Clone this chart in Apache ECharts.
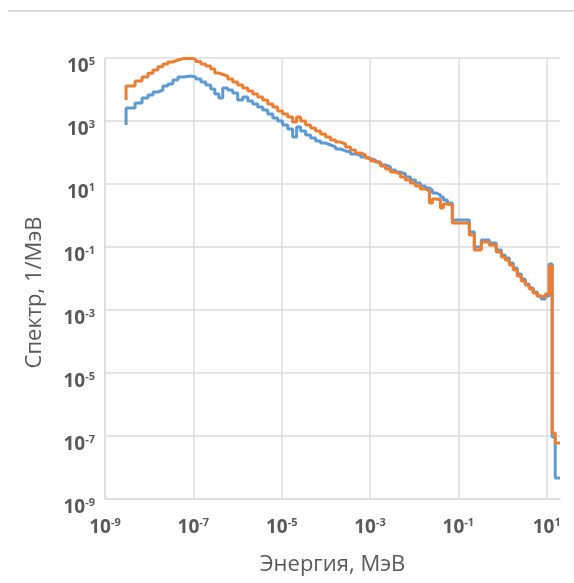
<!DOCTYPE html>
<html>
<head>
<meta charset="utf-8">
<script src="https://cdn.jsdelivr.net/npm/echarts@6/dist/echarts.min.js"></script>
<style>
  html, body { margin: 0; padding: 0; background: #ffffff; }
  #chart { width: 574px; height: 583px; }
</style>
</head>
<body>
<div id="chart"></div>
<script>
// Group upper energy bounds, MeV (first entry is where the histogram starts)
const energy = [
  3.0e-9, 4.8e-9, 6.9e-9, 9.4e-9, 1.22e-8, 1.58e-8, 2.05e-8, 2.65e-8, 3.44e-8, 4.47e-8,
  6.1e-8, 8.8e-8, 1.14e-7, 1.48e-7, 1.91e-7, 2.48e-7, 3.06e-7, 3.77e-7, 4.64e-7, 6.0e-7,
  7.8e-7, 1.01e-6, 1.32e-6, 1.71e-6, 2.21e-6, 2.87e-6, 3.72e-6, 4.83e-6, 6.3e-6, 8.1e-6,
  1.05e-5, 1.37e-5, 1.77e-5, 2.18e-5, 2.69e-5, 3.48e-5, 4.52e-5, 5.86e-5, 7.6e-5, 9.86e-5,
  1.28e-4, 1.66e-4, 2.15e-4, 2.79e-4, 3.62e-4, 4.7e-4, 6.1e-4, 7.9e-4, 1.03e-3, 1.33e-3,
  1.73e-3, 2.24e-3, 2.9e-3, 3.77e-3, 4.89e-3, 6.34e-3, 8.2e-3, 1.07e-2, 1.38e-2, 1.79e-2,
  2.21e-2, 2.58e-2, 3.18e-2, 3.92e-2, 4.58e-2, 5.64e-2, 7.3e-2, 0.177, 0.230, 0.331,
  0.50, 0.72, 0.94, 1.15, 1.42, 1.75, 2.15, 2.65, 3.27, 4.02,
  4.95, 6.10, 7.52, 9.25, 11.4, 13.3, 15.6, 20
];

// Spectrum, 1/MeV — first spectrum (blue)
const spectrumBlue = [
  746, 2.59e3, 3.73e3, 5.37e3, 6.68e3, 8.34e3, 9.64e3, 1.29e4, 1.50e4, 2.0e4,
  2.49e4, 2.68e4, 2.49e4, 2.15e4, 1.73e4, 1.39e4, 1.04e4, 7.19e3, 5.37e3, 1.12e4,
  9.64e3, 7.74e3, 4.64e3, 5.78e3, 4.31e3, 3.47e3, 2.78e3, 2.23e3, 1.67e3, 1.24e3,
  1000, 746, 557, 310, 646, 482, 359, 289, 232, 200,
  173, 150, 129, 112, 104, 89.6, 83.4, 71.9, 62.2, 57.8,
  49.9, 40.1, 34.7, 27.8, 24.0, 20.8, 16.7, 13.4, 10.8, 8.64,
  7.46, 6.45, 5.18, 4.48, 3.87, 3.10, 2.49, 0.720, 0.299, 0.100,
  0.167, 0.134, 0.0803, 0.0557, 0.0448, 0.0310, 0.0215, 0.0139, 0.00964, 0.00668,
  0.00499, 0.00373, 0.00278, 0.00223, 0.00278, 0.0289, 9.3e-8, 4.6e-9
];

// Spectrum, 1/MeV — second spectrum (orange)
const spectrumOrange = [
  4.6e3, 1.29e4, 1.86e4, 2.5e4, 3.27e4, 4.16e4, 5.3e4, 6.45e4, 7.47e4, 8.64e4,
  9.64e4, 9.78e4, 8.96e4, 7.74e4, 6.45e4, 5.57e4, 4.48e4, 3.34e4, 2.99e4, 2.68e4,
  2.15e4, 1.73e4, 1.39e4, 1.12e4, 8.96e3, 7.19e3, 5.78e3, 4.64e3, 3.47e3, 2.78e3,
  2.08e3, 1.67e3, 1.34e3, 929, 1.34e3, 1000, 746, 600, 482, 387,
  310, 249, 215, 186, 150, 120, 96.4, 83.4, 66.8, 53.7,
  46.4, 37.3, 29.9, 24.0, 20.8, 16.7, 13.4, 10.8, 8.64, 6.94,
  6.0, 2.49, 3.34, 3.10, 1.73, 2.32, 2.15, 0.578, 0.240, 0.0803,
  0.144, 0.116, 0.0693, 0.0482, 0.0387, 0.0268, 0.0186, 0.0120, 0.00834, 0.00622,
  0.00464, 0.00347, 0.00278, 0.00259, 0.00322, 0.0249, 1.24e-7, 6.0e-8
];

// Decade exponents shown as axis labels
const xTickExponents = [-9, -7, -5, -3, -1, 1];
const yTickExponents = [-9, -7, -5, -3, -1, 1, 3, 5];

const FONT = 'Open Sans';
const TEXT_COLOR = '#595959';
const GRID_COLOR = '#dcdcdc';

function powerLabel(allowed) {
  return function (v) {
    const e = Math.round(Math.log10(v));
    if (allowed.indexOf(e) < 0 || Math.abs(Math.log10(v) - e) > 1e-6) return '';
    return '{b|10}{s|' + e + '}';
  };
}

const labelRich = {
  b: { fontFamily: FONT, fontSize: 19, fontWeight: 'bold', color: TEXT_COLOR,
       lineHeight: 20, verticalAlign: 'bottom' },
  s: { fontFamily: FONT, fontSize: 11, fontWeight: 'bold', color: TEXT_COLOR,
       lineHeight: 12, verticalAlign: 'top' }
};

const chart = echarts.init(document.getElementById('chart'), null, { renderer: 'canvas' });

chart.setOption({
  animation: false,
  backgroundColor: '#ffffff',
  graphic: [{
    type: 'line',
    shape: { x1: 8, y1: 11, x2: 574, y2: 11 },
    style: { stroke: '#d0d0d0', lineWidth: 1.5 }
  }],
  grid: { left: 105, right: 14, top: 58, bottom: 84, containLabel: false },
  xAxis: {
    type: 'log',
    logBase: 10,
    min: 1e-9,
    max: 20,
    interval: 2,
    name: 'Энергия, МэВ',
    nameLocation: 'middle',
    nameGap: 55,
    nameTextStyle: { fontFamily: FONT, fontSize: 22, color: TEXT_COLOR },
    axisLine: { show: true, lineStyle: { color: GRID_COLOR, width: 1.5 } },
    axisTick: { show: false },
    axisLabel: { margin: 18, formatter: powerLabel(xTickExponents), rich: labelRich,
                 showMaxLabel: false },
    splitLine: { show: true, showMaxLine: false, lineStyle: { color: GRID_COLOR, width: 1.5 } },
    minorTick: { show: false },
    minorSplitLine: { show: false }
  },
  yAxis: {
    type: 'log',
    logBase: 10,
    min: 1e-9,
    max: 1e5,
    interval: 2,
    name: 'Спектр, 1/МэВ',
    nameLocation: 'middle',
    nameGap: 59,
    nameTextStyle: { fontFamily: FONT, fontSize: 22, color: TEXT_COLOR,
                     padding: [0, 28, 0, 0] },
    axisLine: { show: true, lineStyle: { color: GRID_COLOR, width: 1.5 } },
    axisTick: { show: false },
    axisLabel: { margin: 10, padding: [16, 0, 0, 0], formatter: powerLabel(yTickExponents),
                 rich: labelRich },
    splitLine: { show: true, lineStyle: { color: GRID_COLOR, width: 1.5 } }
  },
  series: [
    {
      name: 'blue',
      type: 'line',
      step: 'start',
      showSymbol: false,
      data: energy.map((e, i) => [e, spectrumBlue[i]]),
      lineStyle: { color: '#5B9BD5', width: 3 },
      itemStyle: { color: '#5B9BD5' }
    },
    {
      name: 'orange',
      type: 'line',
      step: 'start',
      showSymbol: false,
      data: energy.map((e, i) => [e, spectrumOrange[i]]),
      lineStyle: { color: '#ED7D31', width: 3 },
      itemStyle: { color: '#ED7D31' }
    }
  ]
});
</script>
</body>
</html>
